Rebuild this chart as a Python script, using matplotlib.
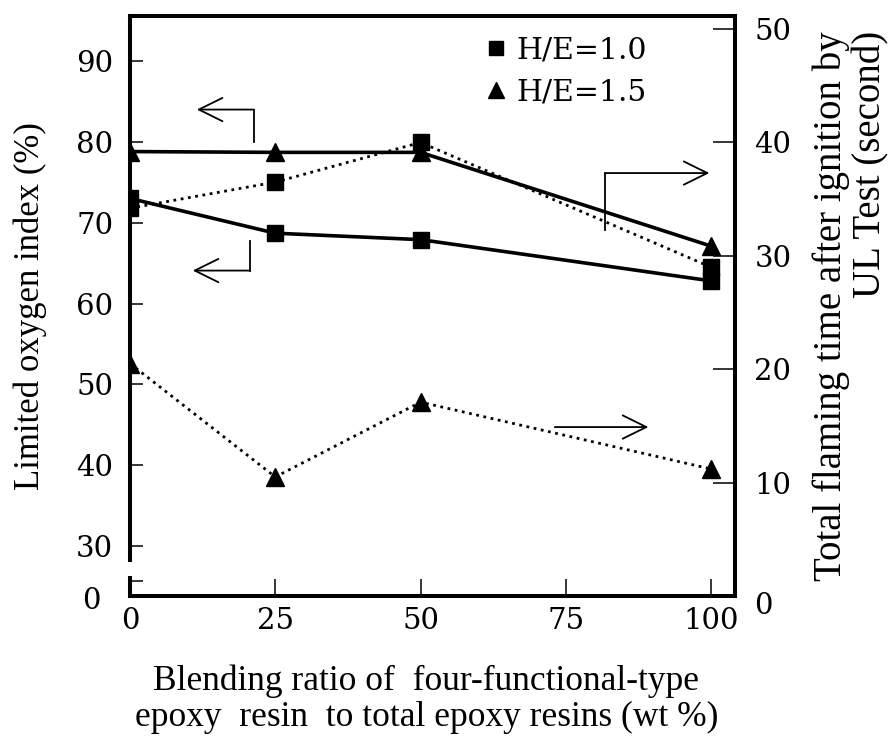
import numpy as np
import matplotlib
matplotlib.use('Agg')
import matplotlib.pyplot as plt
from matplotlib.lines import Line2D
from matplotlib.transforms import ScaledTranslation

# blending ratio (wt %) of four-functional-type epoxy
ratio = [0, 25, 50, 100]

# limited oxygen index (%), left axis
loi_he10 = [73.0, 68.7, 67.9, 62.8]
loi_he15 = [78.8, 78.7, 78.7, 67.1]

# total flaming time (s), right axis
flame_he10 = [34.2, 36.5, 40.0, 29.0]
flame_he15 = [20.5, 10.5, 17.1, 11.2]

xticks = [0, 25, 50, 75, 100]
loi_ticks = [0, 30, 40, 50, 60, 70, 80, 90]
flame_ticks = [0, 10, 20, 30, 40, 50]
series_labels = ['H/E=1.0', 'H/E=1.5']

LABEL_FONT = 'Liberation Serif'
TICK_FONT = 'DejaVu Serif'

# broken left axis: 0..30 squeezed into a short stretch
brk_data = [-50, 0, 30, 200]
brk_axis = [-24.33, 25.67, 30, 200]

def fwd(y):
    return np.interp(y, brk_data, brk_axis)

def inv(v):
    return np.interp(v, brk_axis, brk_data)

fig = plt.figure(figsize=(8.94, 7.38), dpi=100)
ax = fig.add_axes([0.1454, 0.1924, 0.6767, 0.7859])
ax2 = ax.twinx()

ax.set_yscale('function', functions=(fwd, inv))
ax.set_xlim(0, 104.1)
ax.set_ylim(-1.86, 95.57)
ax2.set_ylim(0, 51.15)

lw_spine = 2.9
for s in ['top', 'bottom', 'left']:
    ax.spines[s].set_linewidth(lw_spine)
ax.spines['right'].set_visible(False)
for s in ['top', 'bottom', 'left']:
    ax2.spines[s].set_visible(False)
ax2.spines['right'].set_linewidth(lw_spine)

# gap in the left spine
ax.spines['left'].set_bounds(18.0, 95.57)
ax.plot([0, 0], [-1.86, 4.3], transform=ax.get_yaxis_transform(),
        color='k', lw=lw_spine, solid_capstyle='butt', clip_on=False)

ax.set_xticks(xticks)
ax.set_yticks(loi_ticks)
ax2.set_yticks(flame_ticks)
ax.tick_params(axis='x', direction='in', length=12, width=1.1, pad=8,
               labelsize=21, top=False)
ax.tick_params(axis='y', direction='in', length=9.5, width=1.1, pad=12,
               labelsize=21, right=False)
ax2.tick_params(axis='y', direction='in', length=16, width=1.1, pad=14,
                labelsize=21)
for lab in ax.get_xticklabels() + ax.get_yticklabels() + ax2.get_yticklabels():
    lab.set_fontfamily(TICK_FONT)

# nudge the two "0" labels away from the corner
lab0 = ax.yaxis.get_major_ticks()[0].label1
lab0.set_transform(lab0.get_transform()
                   + ScaledTranslation(-9 / 72, -12 / 72, fig.dpi_scale_trans))
rlab0 = ax2.yaxis.get_major_ticks()[0].label2
rlab0.set_transform(rlab0.get_transform()
                    + ScaledTranslation(0, -5 / 72, fig.dpi_scale_trans))

# LOI: solid lines
ax.plot(ratio, loi_he10, '-', color='k', lw=2.6, marker='s', ms=11.5, zorder=3)
ax.plot(ratio, loi_he15, '-', color='k', lw=2.6, marker='^', ms=13, zorder=3)
# flaming time: dotted lines
ax2.plot(ratio, flame_he10, ':', color='k', lw=2.0, marker='s', ms=11.5, zorder=3)
ax2.plot(ratio, flame_he15, ':', color='k', lw=2.0, marker='^', ms=13, zorder=3)

# arrows showing which axis each pair of lines belongs to
arw = dict(arrowstyle='->,head_length=0.85,head_width=0.42', lw=1.3,
           color='k', shrinkA=0, shrinkB=0, mutation_scale=20)

def hook(x0, y0, y1, x1):
    ax2.plot([x0, x0], [y0, y1], color='k', lw=1.3)
    ax2.annotate('', xy=(x1, y1), xytext=(x0, y1), arrowprops=arw)

hook(21.3, 40.0, 42.9, 11.5)
hook(20.7, 31.3, 28.7, 10.8)
hook(81.8, 32.3, 37.3, 99.7)
ax2.annotate('', xy=(89.2, 14.9), xytext=(73.1, 14.9), arrowprops=arw)

# axis labels
ax.set_xlabel('Blending ratio of  four-functional-type\n'
              'epoxy  resin  to total epoxy resins (wt %)',
              fontfamily=LABEL_FONT, fontsize=25.5, linespacing=1.08)
ax.xaxis.label.set(va='center')
ax.xaxis.set_label_coords(0.49, -0.178)

ax.set_ylabel('Limited oxygen index (%)', fontfamily=LABEL_FONT, fontsize=25)
ax.yaxis.label.set(ha='center', va='center', rotation_mode='default')
ax.yaxis.set_label_coords(-0.165, 0.5)

ax2.set_ylabel('Total flaming time after ignition by\nUL Test (second)',
               fontfamily=LABEL_FONT, fontsize=28, linespacing=1.1,
               multialignment='right')
ax2.yaxis.label.set(ha='center', va='center', rotation_mode='default')
ax2.yaxis.set_label_coords(1.192, 0.5)

handles = [Line2D([], [], ls='none', marker='s', ms=10, color='k'),
           Line2D([], [], ls='none', marker='^', ms=12, color='k')]
ax2.legend(handles, series_labels, loc='upper left',
           bbox_to_anchor=(0.56, 0.99), frameon=False, borderpad=0,
           handlelength=0.8, handletextpad=0.3, labelspacing=0.45,
           prop={'family': TICK_FONT, 'size': 21.5})

fig.savefig('out.png', dpi=100)
